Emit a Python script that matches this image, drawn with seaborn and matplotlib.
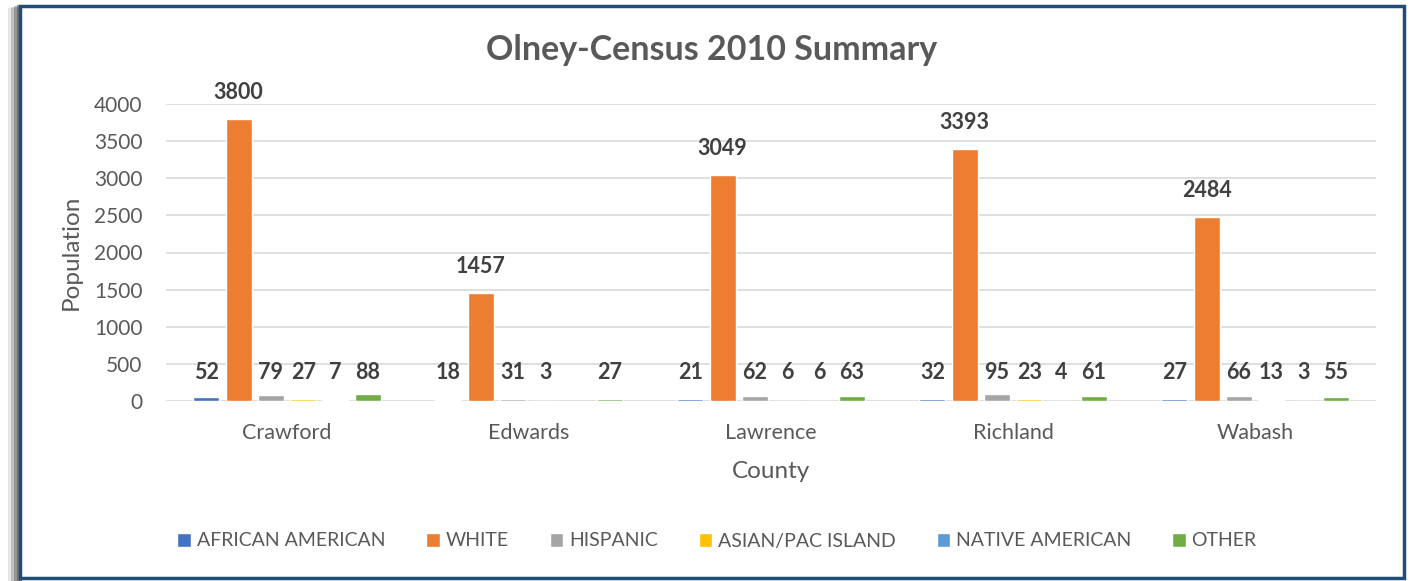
import numpy as np
import pandas as pd
import matplotlib
matplotlib.use("Agg")
import matplotlib.pyplot as plt
from matplotlib.patches import Rectangle
import seaborn as sns

counties = ["Crawford", "Edwards", "Lawrence", "Richland", "Wabash"]
groups = ["AFRICAN AMERICAN", "WHITE", "HISPANIC", "ASIAN/PAC ISLAND", "NATIVE AMERICAN", "OTHER"]
african_american = [52, 18, 21, 32, 27]
white = [3800, 1457, 3049, 3393, 2484]
hispanic = [79, 31, 62, 95, 66]
asian_pac = [27, 3, 6, 23, 13]
native_american = [7, np.nan, 6, 4, 3]
other = [88, 27, 63, 61, 55]
colors = ["#4472C4", "#ED7D31", "#A5A5A5", "#FFC000", "#5B9BD5", "#70AD47"]

series = [african_american, white, hispanic, asian_pac, native_american, other]
rows = []
for g, vals in zip(groups, series):
    for c, v in zip(counties, vals):
        rows.append({"County": c, "Group": g, "Population": v})
df = pd.DataFrame(rows).dropna()

sns.set_style("white")
plt.rcParams["font.family"] = ["Lato", "DejaVu Sans"]

fig = plt.figure(figsize=(14.12, 5.81), dpi=100)
fig.patch.set_facecolor("white")

# frame with shadow
for i, a in enumerate([0.15, 0.25, 0.4, 0.55]):
    fig.patches.append(Rectangle(((8 + 3 * i) / 1412, 0.0), (14 - 3 * i) / 1412, 1 - (8 - i) / 581,
                                 transform=fig.transFigure, facecolor="#555555", edgecolor="none",
                                 alpha=a, zorder=-3))
fig.patches.append(Rectangle((20 / 1412, 3 / 581), 1384 / 1412, 572 / 581, transform=fig.transFigure,
                             facecolor="white", edgecolor="#1F4E79", linewidth=2.5, zorder=-2))

ax = fig.add_axes([166 / 1412, 1 - 401 / 581, 1210 / 1412, 297 / 581])
ax.set_facecolor("none")
sns.barplot(data=df, x="County", y="Population", hue="Group", order=counties,
            hue_order=groups, palette=colors, width=0.8, gap=0.2, ax=ax,
            errorbar=None, saturation=1)

for cont in ax.containers:
    for bar in cont:
        h = bar.get_height()
        if np.isnan(h):
            continue
        x = bar.get_x() + bar.get_width() / 2
        if h > 500:
            ax.annotate(f"{int(round(h))}", (x, h), xytext=(0, 19), textcoords="offset points",
                        ha="center", va="center", fontsize=15.5, fontweight="bold", color="#404040")
        else:
            ax.annotate(f"{int(round(h))}", (x, 390), ha="center", va="center",
                        fontsize=15.5, fontweight="bold", color="#404040")

ax.set_ylim(0, 4000)
ax.set_yticks(range(0, 4001, 500))
ax.set_xlim(-0.5, 4.5)
ax.grid(axis="y", color="#D9D9D9", linewidth=1.2)
ax.set_axisbelow(True)
for s in ax.spines.values():
    s.set_visible(False)
ax.tick_params(axis="both", length=0, labelcolor="#595959")
ax.tick_params(axis="x", pad=16, labelsize=15.5)
ax.tick_params(axis="y", pad=17, labelsize=15)
ax.set_xlabel("County", fontsize=17.5, color="#595959", labelpad=13)
ax.set_ylabel("Population", fontsize=17.5, color="#595959", labelpad=9)

fig.text(712 / 1412, 1 - 50 / 581, "Olney-Census 2010 Summary", ha="center", va="center",
         fontsize=24.5, fontweight="bold", color="#595959")

handles, labels = ax.get_legend_handles_labels()
ax.legend_.remove()
fig.legend(handles, labels, loc="center", bbox_to_anchor=(717 / 1412, 1 - 541 / 581), ncol=6,
           frameon=False, fontsize=14, labelcolor="#595959", handlelength=0.7, handleheight=0.7,
           handletextpad=0.3, columnspacing=2.1)

fig.savefig("out.png", dpi=100, facecolor="white")
